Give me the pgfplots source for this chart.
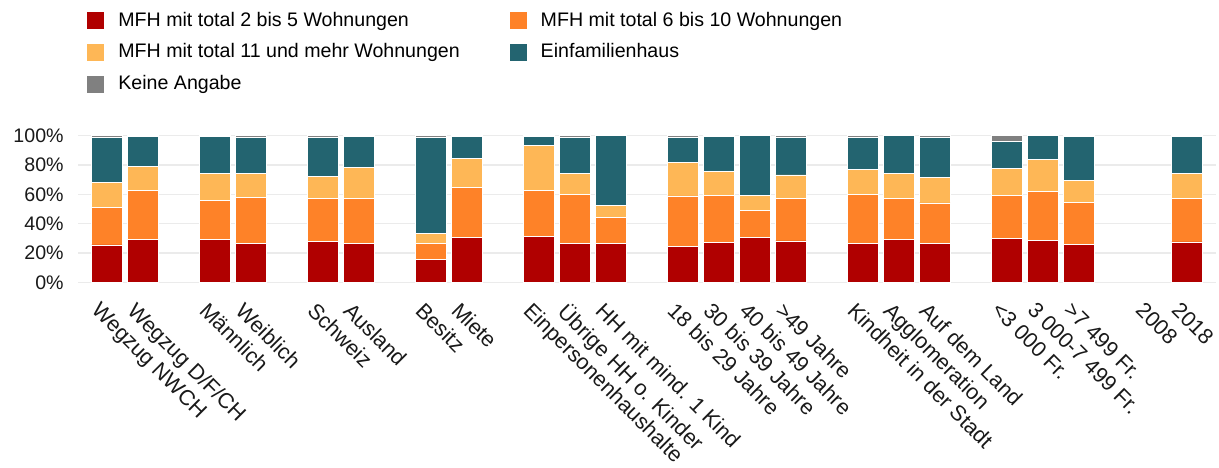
\documentclass[border=0pt]{standalone}
\usepackage{fontspec}
\setmainfont{Liberation Sans}
\usepackage{pgfplots}
\usepackage{pgfplotstable}
\pgfplotsset{compat=1.18}
\definecolor{cRed}{HTML}{B00000}
\definecolor{cOrange}{HTML}{FE8228}
\definecolor{cLight}{HTML}{FEB756}
\definecolor{cTeal}{HTML}{236470}
\definecolor{cGray}{HTML}{808080}
\definecolor{cGrid}{HTML}{EBEBEB}
\pgfplotstableread{
x  red  orange light teal gray
0  25.5 25.4  17.3  30.4 1.4
1  29.5 33.0  16.8  20.2 0.5
3  29.1 26.8  18.4  24.9 0.8
4  26.4 31.3  16.6  24.8 0.9
6  28.0 29.0  15.5  26.5 1.0
7  26.8 30.2  21.2  21.1 0.7
9  15.9 10.5  7.0   65.7 0.9
10 30.7 33.8  20.0  14.8 0.7
12 31.4 31.1  31.1  6.0  0.4
13 26.8 33.0  14.5  24.3 1.4
14 26.4 17.7  8.6   47.3 0.0
16 24.5 34.4  22.9  17.1 1.1
17 27.0 32.1  16.8  23.4 0.7
18 30.9 18.0  10.6  40.5 0.0
19 28.2 29.3  15.7  25.7 1.1
21 26.4 33.4  17.0  21.8 1.4
22 29.3 28.0  17.2  25.5 0.0
23 26.4 27.7  17.3  27.2 1.4
25 30.0 29.5  18.2  18.2 4.1
26 28.6 33.4  21.6  16.4 0.0
27 25.7 28.8  14.8  30.0 0.7
30 27.5 29.5  17.5  24.8 0.7
}\datatable
\begin{document}
\begin{tikzpicture}
\begin{axis}[
  scale only axis,
  width=568.8pt, height=73.3pt,
  ybar stacked,
  bar width=0.86,
  xmin=-0.8, xmax=30.8,
  ymin=0, ymax=100,
  axis line style={draw=none},
  ymajorgrids, grid style={cGrid, line width=0.6pt},
  clip=false,
  ytick={0,20,40,60,80,100},
  yticklabels={0\%,20\%,40\%,60\%,80\%,100\%},
  xtick={0,1,3,4,6,7,9,10,12,13,14,16,17,18,19,21,22,23,25,26,27,29,30},
  xticklabels={Wegzug  NWCH,Wegzug D/F/CH,Männlich,Weiblich,Schweiz,Ausland,Besitz,Miete,Einpersonenhaushalte,Übrige HH o. Kinder,HH mit mind. 1 Kind,18 bis 29 Jahre,30 bis 39 Jahre,40 bis 49 Jahre,>49 Jahre,Kindheit in der Stadt,Agglomeration,Auf dem Land,<3 000 Fr.,3 000-7 499 Fr.,>7 499 Fr.,2008,2018},
  major tick length=0pt,
  tick label style={font=\fontsize{9.8}{11.5}\selectfont, text=black!90},
  yticklabel style={inner sep=0pt, xshift=-7pt},
  xticklabel style={font=\fontsize{10.8}{12.5}\selectfont, rotate=-45, anchor=north west, inner sep=0pt, xshift=4.5pt, yshift=-8.35pt},
  legend columns=2,
  legend style={draw=none, fill=none, at={(0.0079,1.846)}, anchor=north west,
    font=\fontsize{9.8}{11.5}\selectfont, legend cell align=left,
    row sep=7.25pt, column sep=0pt, inner sep=0pt,
    /tikz/every odd column/.append style={column sep=7pt},
    /tikz/every even column/.append style={column sep=25pt},
    nodes={inner sep=0pt, outer sep=0pt}},
  legend image code/.code={\path[#1, draw=none] (0pt,-4.25pt) rectangle (8.5pt,4.25pt);},
  every axis plot/.append style={draw=white, line width=0.4pt},
]
\addplot[fill=cRed] table[x=x, y=red] {\datatable};
\addlegendentry{MFH mit total 2 bis 5 Wohnungen}
\addplot[fill=cOrange] table[x=x, y=orange] {\datatable};
\addlegendentry{MFH mit total 6 bis 10 Wohnungen}
\addplot[fill=cLight] table[x=x, y=light] {\datatable};
\addlegendentry{MFH mit total 11 und mehr Wohnungen}
\addplot[fill=cTeal] table[x=x, y=teal] {\datatable};
\addlegendentry{Einfamilienhaus}
\addplot[fill=cGray] table[x=x, y=gray] {\datatable};
\addlegendentry{Keine Angabe}
\end{axis}
\path ([xshift=-39pt,yshift=-91.35pt]current axis.south west) rectangle ([xshift=1.7pt,yshift=67.85pt]current axis.north east);
\end{tikzpicture}
\end{document}
